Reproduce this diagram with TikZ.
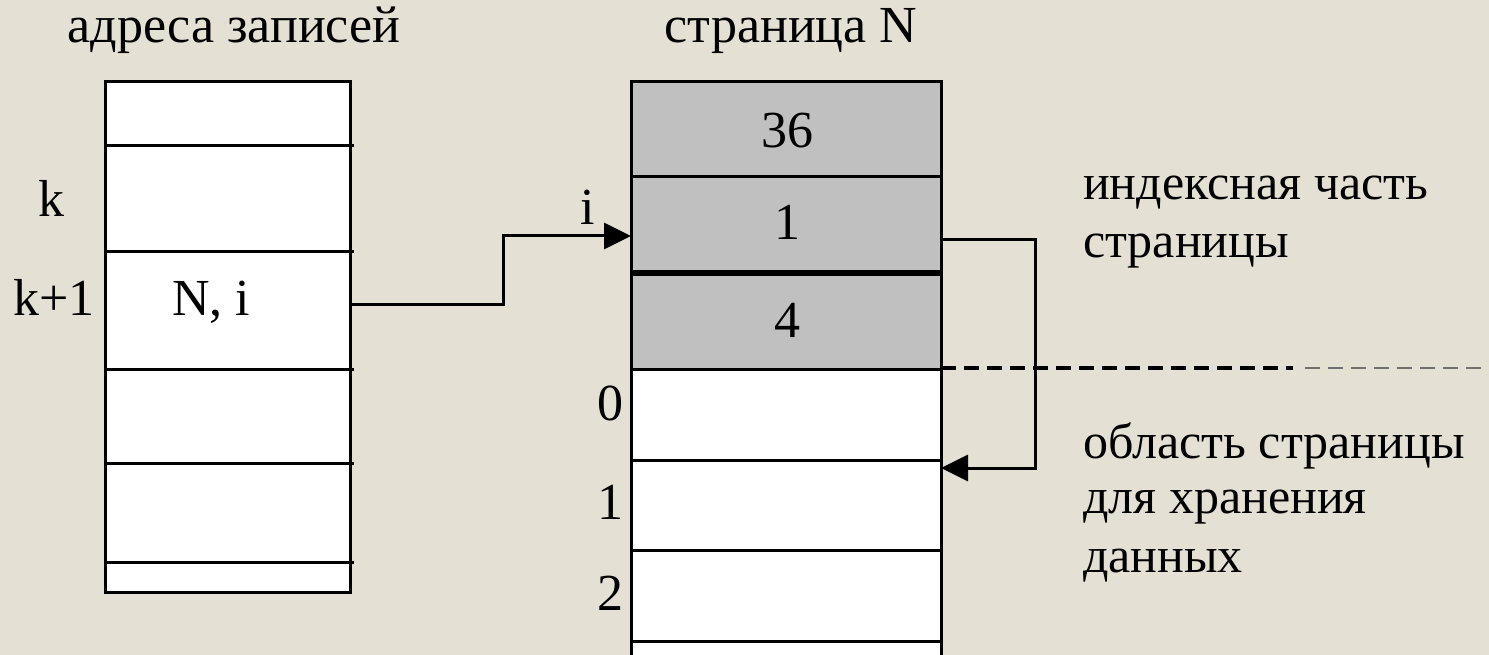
\documentclass[tikz,border=0pt]{standalone}
\usepackage{fontspec}
\setmainfont{Liberation Serif}
\usetikzlibrary{arrows.meta}
\definecolor{paper}{HTML}{E4E0D4}
\definecolor{idxgray}{HTML}{C0C0C0}
\definecolor{fadedash}{HTML}{707070}
\begin{document}
\begin{tikzpicture}[x=1pt,y=-1pt,
  rule/.style={line width=3pt},
  boldrule/.style={line width=6.5pt},
  lbl/.style={inner sep=0pt, font=\fontsize{52}{58}\selectfont, anchor=base},
  note/.style={inner sep=0pt, font=\fontsize{50}{58}\selectfont, anchor=base west},
  link/.style={rule, -{Triangle[length=27pt,width=26pt]}},
  sepdash/.style={line width=4pt, dash pattern=on 15pt off 8pt},
  fadeddash/.style={line width=1.6pt, draw=fadedash, dash pattern=on 15pt off 8pt}]
\useasboundingbox[fill=paper] (0,0) rectangle (1489,655);

% --- table of record addresses ---
\fill[white] (105,82) rectangle (350,592);
\draw[rule] (105,82) rectangle (350,592);
\foreach \yy in {146,252,369,463,562}
  \draw[rule] (105,\yy) -- (354,\yy);

% --- page N ---
\fill[idxgray] (631,82) rectangle (941,369);
\fill[white] (631,369) rectangle (941,655);
\draw[rule] (631,655) -- (631,82) -- (941,82) -- (941,655);
\foreach \yy in {177,369,460,550,641}
  \draw[rule] (631,\yy) -- (941,\yy);
\draw[boldrule] (631,273) -- (941,273);

% boundary between index part and data area
\draw[sepdash] (941,368) -- (1293,368);
\draw[fadeddash] (1305,368) -- (1489,368);

% --- headings ---
\node[lbl] (hdrA) at (234,43) {адреса записей};
\node[lbl] (hdrP) at (791,43) {страница N};

% --- row labels ---
\node[lbl] (rk)  at (51,217) {k};
\node[lbl] (rk1) at (54,315) {k+1};
\node[lbl] (cNi) at (211,315) {N, i};

\node[lbl] (v36) at (787,148) {36};
\node[lbl] (v1)  at (787,240) {1};
\node[lbl] (v4)  at (787,337) {4};

\node[lbl] (ii) at (588,225) {i};
\node[lbl] (d0) at (610,420) {0};
\node[lbl] (d1) at (610,519) {1};
\node[lbl] (d2) at (610,610) {2};

% --- notes ---
\node[note] (n1) at (1083,200) {индексная часть};
\node[note] (n2) at (1083,258) {страницы};
\node[note] (n3) at (1083,458) {область страницы};
\node[note] (n4) at (1083,513) {для хранения};
\node[note] (n5) at (1083,572) {данных};

% --- connectors ---
\coordinate (fromRec) at (350,304);
\coordinate (toSlot)  at (631,236);
\draw[link] (fromRec) -- ++(153,0) |- (toSlot);

\coordinate (fromSlot) at (941,240);
\coordinate (toData)   at (941,468);
\draw[link] (fromSlot) -- ++(94,0) |- (toData);
\end{tikzpicture}
\end{document}
